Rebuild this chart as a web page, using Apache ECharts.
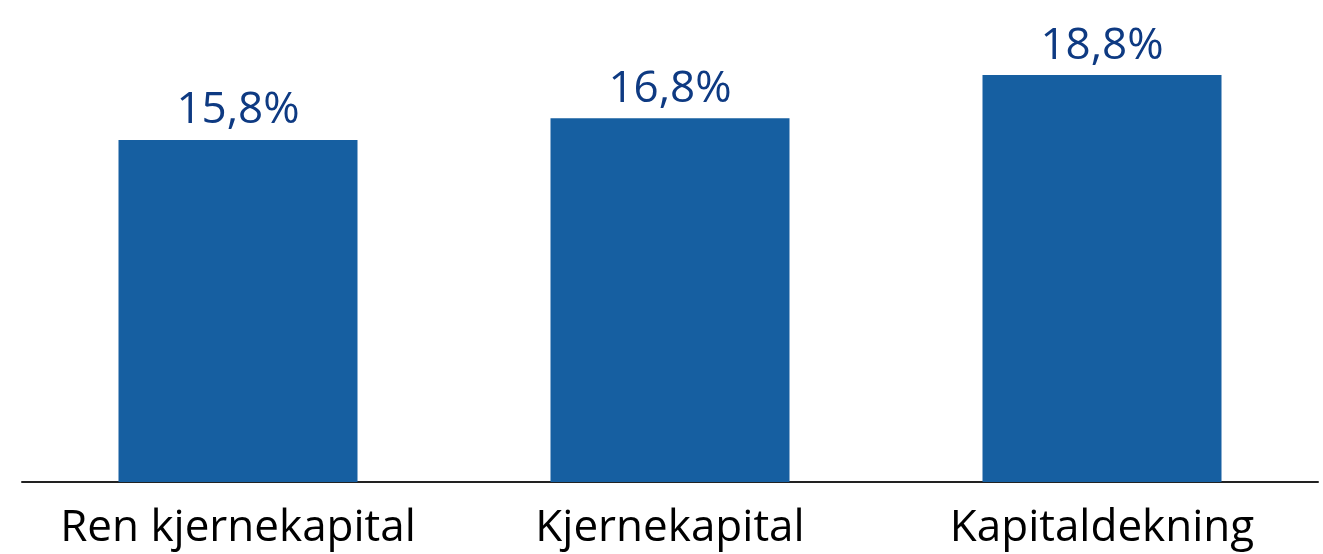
<!DOCTYPE html>
<html>
<head>
<meta charset="utf-8">
<style>html,body{margin:0;padding:0;background:#fff;}#c{width:1323px;height:554px;}</style>
<script src="https://cdn.jsdelivr.net/npm/echarts@6/dist/echarts.min.js"></script>
</head>
<body>
<div id="c"></div>
<script>
const categories = ['Ren kjernekapital', 'Kjernekapital', 'Kapitaldekning'];
const values = [15.8, 16.8, 18.8];
const valueLabels = ['15,8%', '16,8%', '18,8%'];

const chart = echarts.init(document.getElementById('c'), null, {renderer: 'canvas'});
chart.setOption({
  animation: false,
  grid: {left: 22, right: 5, top: 49, bottom: 72, containLabel: false},
  xAxis: {
    type: 'category',
    data: categories,
    axisLine: {show: true, lineStyle: {color: '#222', width: 2}},
    axisTick: {show: false},
    axisLabel: {color: '#000', fontFamily: 'Open Sans', fontSize: 44, margin: 24, interval: 0}
  },
  yAxis: {
    type: 'value', min: 0, max: 20, show: false, splitLine: {show: false}
  },
  series: [{
    type: 'bar',
    data: values,
    barWidth: 239,
    itemStyle: {color: '#165FA1'},
    label: {
      show: true, position: 'top', distance: 7,
      color: '#0E3A82', fontFamily: 'Open Sans', fontSize: 44,
      formatter: p => valueLabels[p.dataIndex]
    }
  }]
});
</script>
</body>
</html>
